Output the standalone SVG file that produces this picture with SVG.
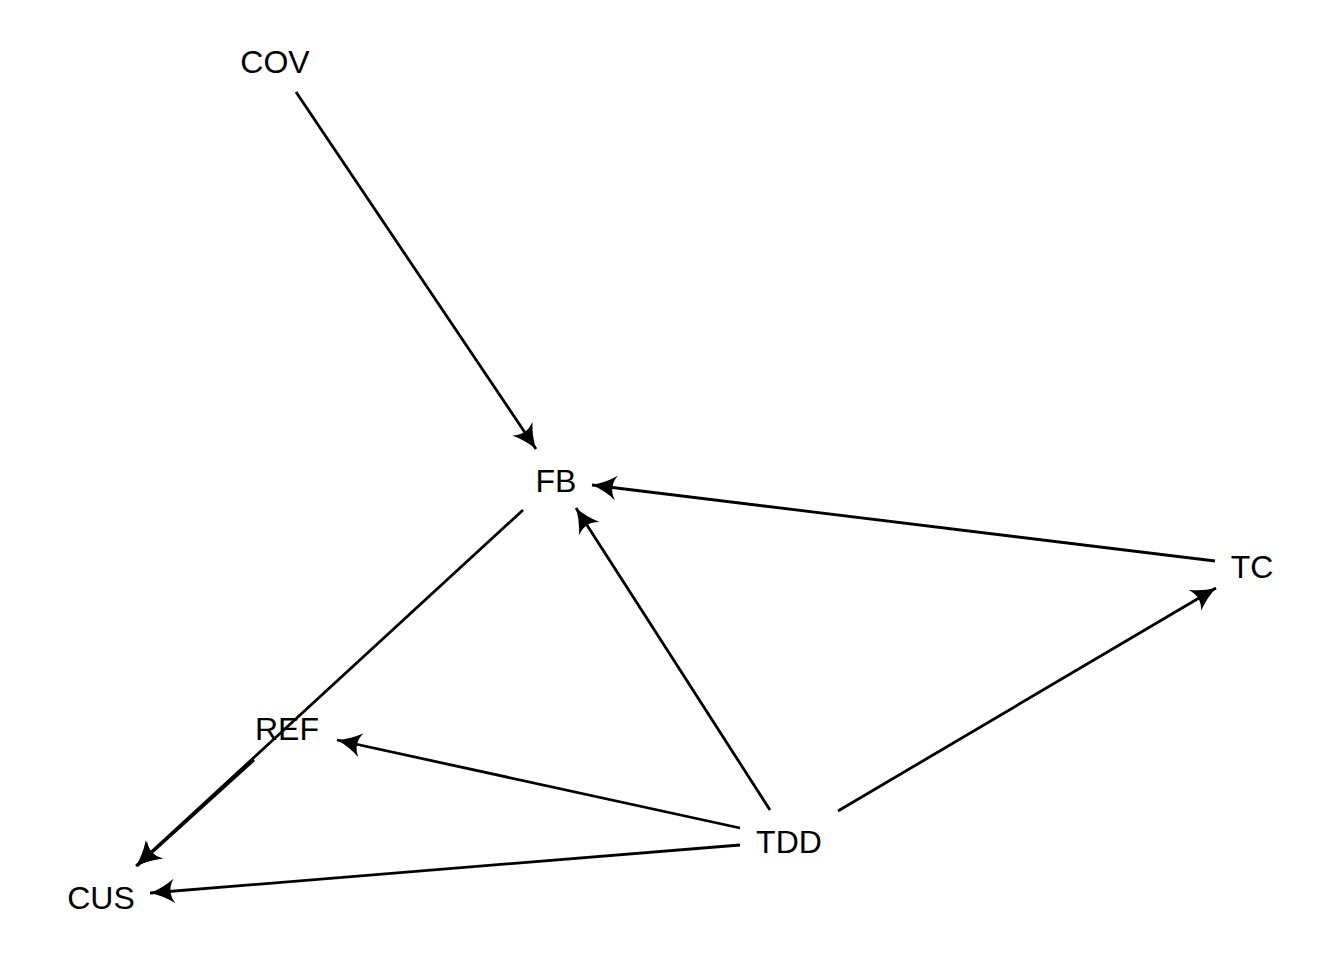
<svg xmlns="http://www.w3.org/2000/svg" width="1344" height="960" viewBox="0 0 1344 960">
<style>
.lbl{font-family:"Liberation Sans",Arial,sans-serif;font-size:32px;fill:#000;text-anchor:middle;dominant-baseline:central}
.edge{stroke:#000;stroke-width:2.8;fill:none;marker-end:url(#arr)}
</style>
<defs>
<marker id="arr" markerUnits="userSpaceOnUse" markerWidth="30" markerHeight="30" viewBox="-20 -10 22 20" refX="0" refY="0" orient="auto">
<path d="M0,0 Q-10,-3 -18,-9 Q-12,0 -18,9 Q-10,3 0,0 Z" fill="#000"/>
</marker>
</defs>
<rect width="1344" height="960" fill="#fff"/>
<g id="connectors">
<line class="edge" x1="296" y1="92" x2="536" y2="449"/>
<line class="edge" x1="1215" y1="561" x2="592" y2="485"/>
<line class="edge" x1="770" y1="810" x2="576" y2="508"/>
<line class="edge" x1="838" y1="811" x2="1216" y2="588"/>
<line class="edge" x1="740" y1="828" x2="337" y2="740"/>
<line class="edge" x1="740" y1="845" x2="150" y2="893"/>
<line class="edge" x1="523" y1="510" x2="136" y2="866"/>
<line class="edge" x1="254" y1="760" x2="137" y2="866"/>
</g>
<g id="COV"><text class="lbl" x="275" y="62">COV</text></g>
<g id="FB"><text class="lbl" x="556" y="481">FB</text></g>
<g id="TC"><text class="lbl" x="1252" y="567">TC</text></g>
<g id="REF"><text class="lbl" x="287" y="729">REF</text></g>
<g id="TDD"><text class="lbl" x="789" y="842">TDD</text></g>
<g id="CUS"><text class="lbl" x="101" y="898">CUS</text></g>
</svg>
